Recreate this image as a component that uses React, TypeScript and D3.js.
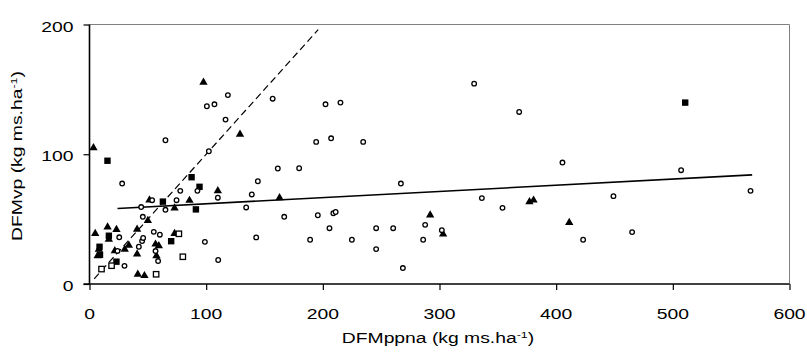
import * as d3 from "d3";
import React, { useEffect, useRef } from "react";

// values: [DFMppna, DFMvp]
const circlePts: [number, number][] = [
  [24, 25.5], [25.5, 36], [28, 77.4], [30, 14], [42.3, 28.7], [44.3, 59.3], [45.1, 33.1],
  [45.7, 51.8], [46, 35.5], [53.7, 64.6], [55.1, 40.2], [56.6, 25.4], [58.8, 17.7], [60.3, 38],
  [65.1, 110.8], [65.1, 57.2], [74.6, 64.6], [77.8, 71.8], [92.5, 71.8], [98.9, 32.5],
  [100.6, 137], [102.3, 102.3], [107.1, 138.5], [110, 66.5], [110.3, 18.5], [116.6, 126.7],
  [118.6, 145.6], [134.3, 59], [139.1, 69], [142.9, 35.9], [144.3, 79.2], [157, 142.8],
  [161.4, 89], [166.9, 51.8], [179.7, 89.2], [189.1, 34.1], [194.3, 109.5], [195.7, 53],
  [202.3, 138.5], [205.7, 43], [207.1, 112.3], [209, 54.5], [211, 55.5], [215.1, 139.8],
  [224.9, 34.1], [234.6, 109.5], [245.7, 43], [245.7, 26.9], [260.3, 43], [266.9, 77.4],
  [268.6, 12.3], [286, 34.1], [287.7, 45.6], [302, 41.5], [329.7, 154.4], [336.3, 66.2],
  [354, 58.7], [368.3, 132.6], [405.4, 93.6], [423.1, 34.1], [449.1, 67.7], [465.1, 40],
  [507.1, 87.7], [566.6, 71.8],
];
const trianglePts: [number, number][] = [
  [3.4, 105.6], [4.9, 39.5], [7, 22.3], [8, 27.4], [15.5, 44.5], [16.6, 35], [21.7, 26.2],
  [23.1, 42.5], [30.2, 27.4], [33.7, 30.5], [40.8, 42.8], [40.8, 23.6], [41.4, 8], [47.1, 7],
  [50, 49.5], [51.4, 65.3], [56.6, 31.3], [57.4, 22.3], [59.4, 30], [72.9, 59.2], [72.9, 39.5],
  [85.7, 65], [97.7, 156], [110, 72.5], [129, 116], [162.9, 67], [292, 53.8], [303.1, 39],
  [377.1, 64], [380.6, 65.2], [411.2, 48],
];
const squarePts: [number, number][] = [
  [8.6, 28.7], [9, 22.5], [15.4, 95], [16.6, 37.2], [23.1, 17.2], [62.9, 63.5], [70, 33],
  [87.5, 82.3], [91.2, 57.5], [94.3, 74.9], [510.6, 139.8],
];
const openSquarePts: [number, number][] = [
  [10.3, 11.5], [18.9, 14.1], [57.1, 7.5], [76.6, 38.7], [80, 21],
];
const trendLine: [number, number][] = [[24, 58.2], [568, 84.1]];
const oneToOneLine: [number, number][] = [[4, 4], [196, 196]];

const xTicks = [0, 100, 200, 300, 400, 500, 600];
const yTicks = [0, 100, 200];
const xTitle = "DFMppna (kg ms.ha";
const yTitle = "DFMvp (kg ms.ha";

const App: React.FC = () => {
  const ref = useRef<SVGSVGElement>(null);
  useEffect(() => {
    const svg = d3.select(ref.current);
    svg.selectAll("*").remove();
    const left = 89.5, right = 789.5, top = 24.5, bottom = 284;
    const font = "'Liberation Sans', Arial, sans-serif";
    const stretch = 1.38;

    const x = d3.scaleLinear().domain([0, 600]).range([left, right]);
    const y = d3.scaleLinear().domain([0, 200]).range([bottom, top]);

    // frame (top, right)
    svg.append("path")
      .attr("d", `M${left},${top}H${right}V${bottom}`)
      .attr("fill", "none").attr("stroke", "#808080").attr("stroke-width", 1);

    const line = d3.line<[number, number]>().x((d) => x(d[0])).y((d) => y(d[1]));
    svg.append("path").attr("d", line(oneToOneLine)!).attr("fill", "none")
      .attr("stroke", "#000").attr("stroke-width", 1.2).attr("stroke-dasharray", "7,4");
    svg.append("path").attr("d", line(trendLine)!).attr("fill", "none")
      .attr("stroke", "#000").attr("stroke-width", 1.6);

    // axes
    const xAxis = svg.append("g").attr("transform", `translate(0,${bottom})`)
      .call(d3.axisBottom(x).tickValues(xTicks).tickSize(6).tickFormat(() => ""));
    const yAxis = svg.append("g").attr("transform", `translate(${left},0)`)
      .call(d3.axisLeft(y).tickValues(yTicks).tickSize(6).tickFormat(() => ""));
    [xAxis, yAxis].forEach((g) => {
      g.select(".domain").attr("stroke", "#000").attr("stroke-width", 1.6);
      g.selectAll(".tick line").attr("stroke", "#000").attr("stroke-width", 1.2);
    });
    yAxis.select(".domain").attr("d", `M0,${bottom}V${top}`);
    xAxis.select(".domain").attr("d", `M${left - 6},0H${right}`);

    xTicks.forEach((t) => {
      svg.append("text")
        .attr("transform", `translate(${x(t)},318.5) scale(${stretch},1)`)
        .attr("text-anchor", "middle").attr("font-family", font).attr("font-size", 14)
        .text(t);
    });
    yTicks.forEach((t) => {
      svg.append("text")
        .attr("transform", `translate(73.5,${y(t) + 7}) scale(${stretch},1)`)
        .attr("text-anchor", "end").attr("font-family", font).attr("font-size", 14)
        .text(t);
    });

    const title = (tr: string, txt: string) => {
      const t = svg.append("text").attr("transform", tr).attr("text-anchor", "middle")
        .attr("font-family", font).attr("font-size", 14).text(txt);
      t.append("tspan").attr("font-size", 9).attr("dy", -5).text("-1");
      t.append("tspan").attr("dy", 5).text(")");
    };
    title(`translate(438,343) scale(${stretch},1)`, xTitle);
    title(`translate(21.5,156) rotate(-90) scale(${stretch},1)`, yTitle);

    // markers
    const tri = d3.symbol().type(d3.symbolTriangle).size(30)()!;
    svg.append("g").selectAll("path").data(trianglePts).join("path")
      .attr("d", tri).attr("transform", (d) => `translate(${x(d[0])},${y(d[1]) + 0.8})`)
      .attr("fill", "#000");
    svg.append("g").selectAll("rect").data(squarePts).join("rect")
      .attr("x", (d) => x(d[0]) - 3.2).attr("y", (d) => y(d[1]) - 3.2)
      .attr("width", 6.4).attr("height", 6.4).attr("fill", "#000");
    svg.append("g").selectAll("rect").data(openSquarePts).join("rect")
      .attr("x", (d) => x(d[0]) - 2.7).attr("y", (d) => y(d[1]) - 2.7)
      .attr("width", 5.4).attr("height", 5.4).attr("fill", "#fff")
      .attr("stroke", "#000").attr("stroke-width", 1.3);
    svg.append("g").selectAll("circle").data(circlePts).join("circle")
      .attr("cx", (d) => x(d[0])).attr("cy", (d) => y(d[1])).attr("r", 2.3)
      .attr("fill", "#fff").attr("stroke", "#000").attr("stroke-width", 1.3);
  }, []);

  return (
    <svg ref={ref} width={807} height={352}
      style={{ position: "absolute", left: 0, top: 0, background: "#fff" }} />
  );
};

export default App;
